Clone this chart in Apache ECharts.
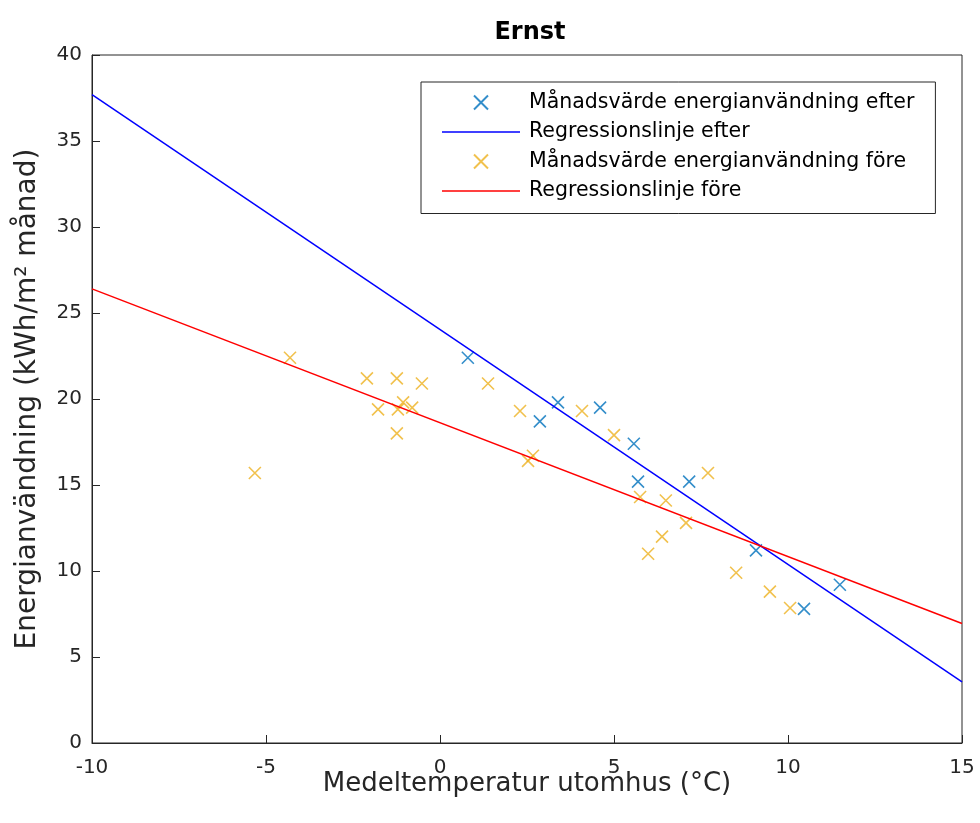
<!DOCTYPE html>
<html>
<head>
<meta charset="utf-8">
<script src="https://cdn.jsdelivr.net/npm/echarts@6/dist/echarts.min.js"></script>
<style>html,body{margin:0;padding:0;background:#fff}#c{width:980px;height:823px}</style>
</head>
<body>
<div id="c"></div>
<script>
// Data
var afterX = [0.80, 2.87, 3.39, 4.60, 5.57, 5.69, 7.16, 9.08, 10.46, 11.49];
var afterY = [22.4, 18.7, 19.8, 19.5, 17.4, 15.2, 15.2, 11.2, 7.8, 9.2];
var beforeX = [-5.32, -4.31, -2.10, -1.78, -1.24, -1.24, -1.21, -1.06, -0.80, -0.52, 1.38, 2.30, 2.53, 2.67, 4.08, 5.00, 5.75, 5.98, 6.38, 6.49, 7.07, 7.70, 8.51, 9.48, 10.06];
var beforeY = [15.7, 22.4, 21.2, 19.4, 21.2, 18.0, 19.4, 19.8, 19.5, 20.9, 20.9, 19.3, 16.4, 16.7, 19.3, 17.9, 14.3, 11.0, 12.0, 14.1, 12.8, 15.7, 9.9, 8.8, 7.85];
var lineAfterX = [-10, 15];
var lineAfterY = [37.7, 3.55];
var lineBeforeX = [-10, 15];
var lineBeforeY = [26.4, 6.95];
var seriesNames = ['Månadsvärde energianvändning efter', 'Regressionslinje efter', 'Månadsvärde energianvändning före', 'Regressionslinje före'];
var titleText = 'Ernst';
var xName = 'Medeltemperatur utomhus (°C)';
var yName = 'Energianvändning (kWh/m² månad)';

function zip(a, b) { return a.map(function (v, i) { return [v, b[i]]; }); }

var FONT = 'DejaVu Sans';
var AX = '#262626';
var X_SYMBOL = 'path://M0,0L10,10M10,0L0,10';
var LINE_ICON = 'path://M0,0H100V2H0Z';

var chart = echarts.init(document.getElementById('c'), null, {renderer: 'canvas'});
chart.setOption({
  animation: false,
  backgroundColor: '#fff',
  textStyle: {fontFamily: FONT},
  title: {
    text: titleText, left: 525, top: 16, textAlign: 'center',
    textStyle: {fontFamily: FONT, fontSize: 24, fontWeight: 'bold', color: '#000'}
  },
  grid: {left: 92, right: 18, top: 55, bottom: 80, show: true, borderColor: AX, borderWidth: 1, backgroundColor: '#fff'},
  legend: {
    orient: 'vertical', left: 421, top: 82,
    padding: [10, 21, 12, 21],
    itemWidth: 78, itemHeight: 14, itemGap: 8.5,
    borderColor: AX, borderWidth: 1, backgroundColor: '#fff',
    textStyle: {fontFamily: FONT, fontSize: 20.5, lineHeight: 20, color: '#000', padding: [0, 0, 0, 4]},
    data: [
      {name: seriesNames[0]},
      {name: seriesNames[1], icon: LINE_ICON},
      {name: seriesNames[2]},
      {name: seriesNames[3], icon: LINE_ICON}
    ]
  },
  xAxis: {
    type: 'value', min: -10, max: 15, interval: 5,
    name: xName, nameLocation: 'middle', nameGap: 28, nameMoveOverlap: false,
    nameTextStyle: {fontFamily: FONT, fontSize: 26, color: AX},
    axisLine: {show: true, onZero: false, lineStyle: {color: AX, width: 1}},
    axisTick: {show: true, inside: true, length: 8, lineStyle: {color: AX}},
    axisLabel: {fontFamily: FONT, fontSize: 20, color: AX, margin: 15},
    splitLine: {show: false}
  },
  yAxis: {
    type: 'value', min: 0, max: 40, interval: 5,
    name: yName, nameLocation: 'middle', nameGap: 50, nameMoveOverlap: false,
    nameTextStyle: {fontFamily: FONT, fontSize: 28, color: AX},
    axisLine: {show: true, onZero: false, lineStyle: {color: AX, width: 1}},
    axisTick: {show: true, inside: true, length: 8, lineStyle: {color: AX}},
    axisLabel: {fontFamily: FONT, fontSize: 20, color: AX, margin: 10},
    splitLine: {show: false}
  },
  series: [
    {
      name: seriesNames[0], type: 'scatter', data: zip(afterX, afterY), z: 3,
      symbol: X_SYMBOL, symbolSize: 12,
      itemStyle: {color: 'rgba(0,0,0,0)', borderColor: '#0072BD', borderWidth: 1.6}
    },
    {
      name: seriesNames[1], type: 'line', data: zip(lineAfterX, lineAfterY), z: 4,
      symbol: 'none', showSymbol: false,
      lineStyle: {color: '#0000FF', width: 1.5}, itemStyle: {color: '#0000FF'}
    },
    {
      name: seriesNames[2], type: 'scatter', data: zip(beforeX, beforeY), z: 3,
      symbol: X_SYMBOL, symbolSize: 12,
      itemStyle: {color: 'rgba(0,0,0,0)', borderColor: '#EDB120', borderWidth: 1.6}
    },
    {
      name: seriesNames[3], type: 'line', data: zip(lineBeforeX, lineBeforeY), z: 4,
      symbol: 'none', showSymbol: false,
      lineStyle: {color: '#FF0000', width: 1.5}, itemStyle: {color: '#FF0000'}
    }
  ]
});
</script>
</body>
</html>
